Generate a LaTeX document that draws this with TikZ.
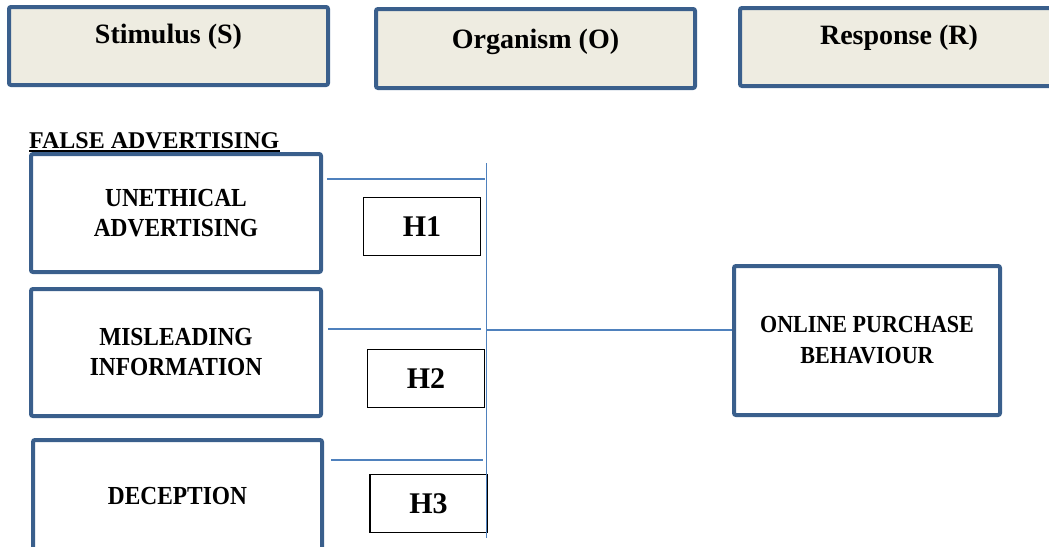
\documentclass[tikz,border=0pt]{standalone}
\usepackage{fontspec}
\setmainfont{Liberation Serif}
\newfontfamily\boxfont[FakeStretch=0.9]{Liberation Serif}
\definecolor{bord}{HTML}{3A5F8C}
\definecolor{linec}{HTML}{4F81BD}
\definecolor{beige}{HTML}{EEECE1}
\begin{document}
\begin{tikzpicture}[x=1pt,y=-1pt,
  bigbox/.style={draw=bord, line width=4pt, rounded corners=2pt, align=center,
    font=\boxfont\bfseries\fontsize{26}{30}\selectfont, inner sep=0pt},
  headbox/.style={bigbox, fill=beige},
  hbox/.style={draw=black, line width=1.3pt, font=\bfseries\fontsize{30}{36}\selectfont,
    inner sep=0pt, minimum width=117pt, minimum height=58pt},
  link/.style={draw=linec, line width=1.6pt},
  headlbl/.style={font=\bfseries\fontsize{28}{32}\selectfont}]
\useasboundingbox (0,0) rectangle (1049,546);
\clip (0,0) rectangle (1049,546);
% header boxes
\node[headbox, minimum width=319pt, minimum height=78pt,
  label={[headlbl, yshift=9pt]center:Stimulus (S)}] (S) at (168.5,46) {};
\node[headbox, minimum width=319pt, minimum height=79pt,
  label={[headlbl, yshift=6.5pt]center:Organism (O)}] (Og) at (535.5,48.5) {};
\node[headbox, minimum width=318pt, minimum height=78pt,
  label={[headlbl, yshift=9pt]center:Response (R)}] (R) at (899,47) {};
% title
\node[anchor=base west, font=\bfseries\fontsize{24}{28}\selectfont, inner sep=0pt] (fa) at (29,148) {FALSE ADVERTISING};
\draw[line width=1.5pt] ([yshift=-3pt]fa.base west) -- ([yshift=-3pt]fa.base east);
% stimulus boxes
\node[bigbox, minimum width=290pt, minimum height=118pt] (U) at (176,213) {UNETHICAL\\ADVERTISING};
\node[bigbox, minimum width=290pt, minimum height=127pt] (M) at (176,352.5) {MISLEADING\\INFORMATION};
\node[bigbox, minimum width=289pt, minimum height=112pt] (D) at (177.5,496) {DECEPTION};
\node[bigbox, minimum width=266pt, minimum height=149pt, font=\boxfont\bfseries\fontsize{24.5}{31}\selectfont] (O) at (867,340.5) {ONLINE PURCHASE\\BEHAVIOUR};
% hypothesis boxes
\node[hbox] (H1) at (422,226.5) {H1};
\node[hbox] (H2) at (426,378.5) {H2};
\node[hbox] (H3) at (428.5,503.5) {H3};
% connectors
\coordinate (vt) at (486.5,163);
\coordinate (vb) at (486.5,538);
\draw[link] (vt) -- (vb);
\coordinate (e1) at (485,179);
\draw[link] ([xshift=4pt]U.east |- e1) -- (e1);
\coordinate (e2) at (481,329);
\draw[link] ([xshift=5pt]M.east |- e2) -- (e2);
\coordinate (e3) at (483,460);
\draw[link] ([xshift=7pt]D.east |- e3) -- (e3);
\coordinate (j) at (487,330);
\draw[link] (j) -- (O.west |- j);
\end{tikzpicture}
\end{document}
